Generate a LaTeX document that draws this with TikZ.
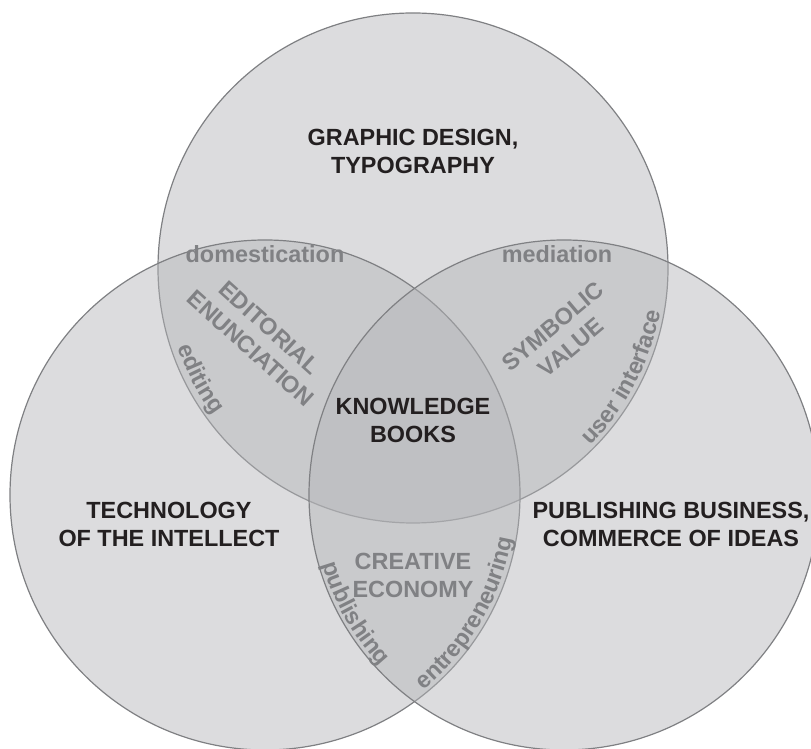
\documentclass[tikz,border=0pt]{standalone}
\usepackage{fontspec}
\setmainfont{Liberation Sans}
\usetikzlibrary{calc, decorations.text}
\definecolor{fieldgray}{HTML}{B4B5B8}
\definecolor{edgegray}{HTML}{7F8083}
\definecolor{labelgray}{HTML}{808184}
\definecolor{inkblack}{HTML}{231F20}
\newcommand{\arcfont}{\fontsize{23.4}{28}\selectfont\bfseries}

\begin{document}
\begin{tikzpicture}[x=1pt, y=1pt,
  field/.style={circle, draw=edgegray, line width=1.2pt, fill=fieldgray, fill opacity=0.47, minimum size=510pt, inner sep=0pt, outer sep=0pt},
  topic/.style={align=center, text=inkblack, font=\fontsize{23.4}{28}\selectfont\bfseries},
  overlap/.style={align=center, text=labelgray, font=\fontsize{23.4}{28}\selectfont\bfseries},
  arclabel/.style={decorate, decoration={text along path, text align=center, text color=labelgray}}
]
  \useasboundingbox (0,0) rectangle (811,749);

  % Fields
  \node[field] (graphic) at (413,481) {};
  \node[field] (technology) at (265,254) {};
  \node[field] (publishing) at (564,254) {};

  % Field titles
  \node[topic] (design) at (413,598) {GRAPHIC DESIGN,\\TYPOGRAPHY};
  \node[topic] (books) at (413,329) {KNOWLEDGE\\BOOKS};
  \node[topic] (intellect) at (169,225) {TECHNOLOGY\\OF THE INTELLECT};
  \node[topic] (business) at (671,225) {PUBLISHING BUSINESS,\\COMMERCE OF IDEAS};

  % Overlaps
  \node[overlap] (domestication) at (265,495) {domestication};
  \node[overlap] (mediation) at (557,495) {mediation};
  \node[overlap, rotate=-42] (enunciation) at (260,411) {EDITORIAL\\ENUNCIATION};
  \node[overlap, rotate=40] (symbolic) at (562,412) {SYMBOLIC\\VALUE};
  \node[overlap] (economy) at (413,174) {CREATIVE\\ECONOMY};

  % Labels along the rims
  \path[arclabel, decoration={text={|\arcfont|editing}}]
    ($(graphic)+(162.5:248pt)$) arc[start angle=162.5, end angle=252.5, radius=248pt];
  \path[arclabel, decoration={text={|\arcfont|user interface}}]
    ($(graphic)+(-72.5:251pt)$) arc[start angle=-72.5, end angle=17.5, radius=251pt];
  \path[arclabel, decoration={text={|\arcfont|publishing}}]
    ($(publishing)+(164.5:251pt)$) arc[start angle=164.5, end angle=254.5, radius=251pt];
  \path[arclabel, decoration={text={|\arcfont|entrepreneuring}}]
    ($(technology)+(-75.5:251pt)$) arc[start angle=-75.5, end angle=14.5, radius=251pt];
\end{tikzpicture}
\end{document}
